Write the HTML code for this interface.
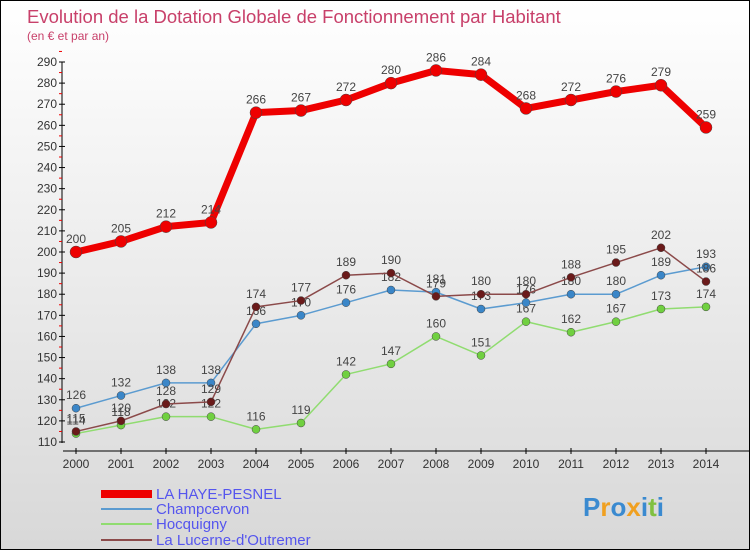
<!DOCTYPE html>
<html><head><meta charset="utf-8"><style>
body{margin:0}
#c{position:relative;width:748px;height:548px;border:1px solid #000;background:linear-gradient(#fff,#d8d8d8);font-family:"Liberation Sans",sans-serif;overflow:hidden}
</style></head><body>
<div id="c">
<svg id="s" width="748" height="548" xmlns="http://www.w3.org/2000/svg">
<text x="26" y="22" font-size="18.5" fill="#c8406a">Evolution de la Dotation Globale de Fonctionnement par Habitant</text>
<text x="26" y="39" font-size="12" fill="#c8406a">(en € et par an)</text>
<g id="axes"></g><g id="series"></g>
<g>
<rect x="100" y="489" width="51" height="8" fill="#e00"/>
<text x="155" y="498" font-size="15" fill="#5555ee">LA HAYE-PESNEL</text>
<line x1="100" y1="508" x2="151" y2="508" stroke="#5b9bd0" stroke-width="2"/>
<text x="155" y="513" font-size="15" fill="#5555ee">Champcervon</text>
<line x1="100" y1="523" x2="151" y2="523" stroke="#90dc70" stroke-width="2"/>
<text x="155" y="528" font-size="15" fill="#5555ee">Hocquigny</text>
<line x1="100" y1="539" x2="151" y2="539" stroke="#8b4a4a" stroke-width="2"/>
<text x="155" y="544" font-size="15" fill="#5555ee">La Lucerne-d'Outremer</text>
</g>
<text x="582" y="515" font-size="26" font-weight="bold" fill="#3a8ad0"><tspan fill="#3a8ad0">P</tspan><tspan fill="#f0a020">r</tspan><tspan fill="#3a8ad0">o</tspan><tspan fill="#f0a020">x</tspan><tspan fill="#3a8ad0">i</tspan><tspan fill="#80c040">t</tspan><tspan fill="#3a8ad0">i</tspan></text>
</svg>
</div>
<script>
const years=[2000,2001,2002,2003,2004,2005,2006,2007,2008,2009,2010,2011,2012,2013,2014];
const yTicks=[110,120,130,140,150,160,170,180,190,200,210,220,230,240,250,260,270,280,290];
const haye=[200,205,212,214,266,267,272,280,286,284,268,272,276,279,259];
const champcervon=[126,132,138,138,166,170,176,182,181,173,176,180,180,189,193];
const hocquigny=[114,118,122,122,116,119,142,147,160,151,167,162,167,173,174];
const lucerne=[115,120,128,129,174,177,189,190,179,180,180,188,195,202,186];
const NS="http://www.w3.org/2000/svg";
const X=i=>75+i*45;
const Y=v=>441-(v-110)*380/180;
function mk(t,a,p){const e=document.createElementNS(NS,t);for(const k in a)e.setAttribute(k,a[k]);p.appendChild(e);return e;}
const ax=document.getElementById('axes');
let yl=mk('line',{x1:61,y1:Y(290),x2:61,y2:Y(110)+1,stroke:'#000'},ax);


let xl=mk('line',{x1:62,y1:450,x2:748,y2:450,stroke:'#000'},ax);


yTicks.forEach(v=>{
  mk('line',{x1:58,x2:64,y1:Y(v),y2:Y(v),stroke:'#000'},ax);
  mk('line',{x1:58,x2:61,y1:Y(v+5),y2:Y(v+5),stroke:'#e00'},ax);
  const t=mk('text',{x:56,y:Y(v)+4,'font-size':12,'text-anchor':'end',fill:'#333'},ax);
  t.textContent=v;
  
  
});
years.forEach((y,i)=>{
  mk('line',{x1:X(i),x2:X(i),y1:447,y2:453,stroke:'#000'},ax);
  const t=mk('text',{x:X(i),y:467,'font-size':12,'text-anchor':'middle',fill:'#333'},ax);
  t.textContent=y;
  
  
});
const sg=document.getElementById('series');
function series(data,color,w,r,name,dot){
  const g=mk('g',{},sg);
  
  
  mk('polyline',{points:data.map((v,i)=>X(i)+','+Y(v)).join(' '),fill:'none',stroke:color,'stroke-width':w,'stroke-linejoin':'round'},g);
  data.forEach((v,i)=>{
    const c=mk('circle',{cx:X(i),cy:Y(v),r:r,fill:dot,stroke:'#444','stroke-width':0.5},g);
    
    
    const t=mk('text',{x:X(i),y:Y(v)-9,'font-size':12,'text-anchor':'middle',fill:'#444'},g);
    t.textContent=v;
    
    
  });
}
series(hocquigny,'#90dc70',1.5,4,'series-hocquigny','#70d040');
series(champcervon,'#5b9bd0',1.5,4,'series-champcervon','#3a86c8');
series(lucerne,'#8b4a4a',1.5,4,'series-lucerne','#6a1a1a');
series(haye,'#e00',7,6,'series-haye-pesnel','#e00');
</script>
</body></html>
